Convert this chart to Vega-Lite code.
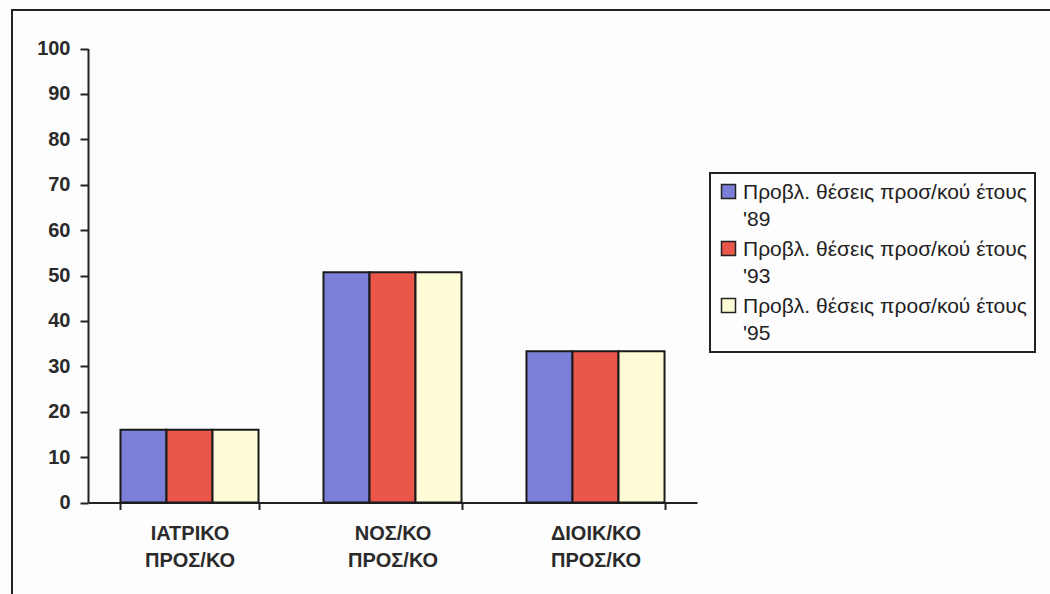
{
  "$schema": "https://vega.github.io/schema/vega-lite/v6.json",
  "width": 1060,
  "height": 620,
  "autosize": "none",
  "padding": {"left": 12, "top": 10, "right": 0, "bottom": 0},
  "background": "#fdfdfd",
  "config": {
    "view": {"stroke": "#222222", "strokeWidth": 2},
    "font": "Liberation Sans"
  },
  "data": {
    "values": [
      {"category": "ΙΑΤΡΙΚΟ ΠΡΟΣ/ΚΟ", "series": "Προβλ. θέσεις προσ/κού έτους '89", "value": 16},
      {"category": "ΙΑΤΡΙΚΟ ΠΡΟΣ/ΚΟ", "series": "Προβλ. θέσεις προσ/κού έτους '93", "value": 16},
      {"category": "ΙΑΤΡΙΚΟ ΠΡΟΣ/ΚΟ", "series": "Προβλ. θέσεις προσ/κού έτους '95", "value": 16},
      {"category": "ΝΟΣ/ΚΟ ΠΡΟΣ/ΚΟ", "series": "Προβλ. θέσεις προσ/κού έτους '89", "value": 50.7},
      {"category": "ΝΟΣ/ΚΟ ΠΡΟΣ/ΚΟ", "series": "Προβλ. θέσεις προσ/κού έτους '93", "value": 50.7},
      {"category": "ΝΟΣ/ΚΟ ΠΡΟΣ/ΚΟ", "series": "Προβλ. θέσεις προσ/κού έτους '95", "value": 50.7},
      {"category": "ΔΙΟΙΚ/ΚΟ ΠΡΟΣ/ΚΟ", "series": "Προβλ. θέσεις προσ/κού έτους '89", "value": 33.3},
      {"category": "ΔΙΟΙΚ/ΚΟ ΠΡΟΣ/ΚΟ", "series": "Προβλ. θέσεις προσ/κού έτους '93", "value": 33.3},
      {"category": "ΔΙΟΙΚ/ΚΟ ΠΡΟΣ/ΚΟ", "series": "Προβλ. θέσεις προσ/κού έτους '95", "value": 33.3}
    ]
  },
  "mark": {"type": "bar", "stroke": "#1a1a1a", "strokeWidth": 2},
  "encoding": {
    "x": {
      "field": "category",
      "type": "nominal",
      "sort": ["ΙΑΤΡΙΚΟ ΠΡΟΣ/ΚΟ", "ΝΟΣ/ΚΟ ΠΡΟΣ/ΚΟ", "ΔΙΟΙΚ/ΚΟ ΠΡΟΣ/ΚΟ"],
      "scale": {"range": [76, 685], "paddingInner": 0.32, "paddingOuter": 0.16},
      "axis": {
        "title": null,
        "orient": "bottom",
        "offset": -127.5,
        "labelAngle": 0,
        "labelExpr": "split(datum.label, ' ')",
        "labelFontSize": 20,
        "labelFontWeight": "bold",
        "labelColor": "#2a2a2a",
        "labelLineHeight": 27,
        "labelPadding": 14,
        "tickBand": "extent",
        "tickSize": 7,
        "tickColor": "#222222",
        "tickWidth": 2,
        "domainColor": "#222222",
        "domainWidth": 2,
        "grid": false
      }
    },
    "xOffset": {
      "field": "series",
      "sort": ["Προβλ. θέσεις προσ/κού έτους '89", "Προβλ. θέσεις προσ/κού έτους '93", "Προβλ. θέσεις προσ/κού έτους '95"],
      "scale": {"paddingInner": 0, "paddingOuter": 0}
    },
    "y": {
      "field": "value",
      "type": "quantitative",
      "scale": {"domain": [0, 100], "range": [492.5, 38.5], "nice": false},
      "axis": {
        "title": null,
        "orient": "left",
        "offset": -76,
        "values": [0, 10, 20, 30, 40, 50, 60, 70, 80, 90, 100],
        "tickSize": 8,
        "tickColor": "#222222",
        "tickWidth": 2,
        "domainColor": "#222222",
        "domainWidth": 2,
        "labelFontSize": 20,
        "labelFontWeight": "bold",
        "labelColor": "#2a2a2a",
        "labelPadding": 10,
        "grid": false
      }
    },
    "color": {
      "field": "series",
      "type": "nominal",
      "sort": ["Προβλ. θέσεις προσ/κού έτους '89", "Προβλ. θέσεις προσ/κού έτους '93", "Προβλ. θέσεις προσ/κού έτους '95"],
      "scale": {"range": ["#7b7fd8", "#e9574b", "#fdfcd6"]},
      "legend": {
        "orient": "none",
        "legendX": 698,
        "legendY": 163,
        "title": null,
        "labelExpr": "[slice(datum.label, 0, lastindexof(datum.label, ' ')), slice(datum.label, lastindexof(datum.label, ' ') + 1)]",
        "labelFontSize": 21,
        "labelBaseline": "alphabetic",
        "labelLimit": 400,
        "labelColor": "#222222",
        "labelOffset": 4,
        "symbolType": "square",
        "symbolSize": 196,
        "symbolStrokeColor": "#222222",
        "symbolStrokeWidth": 1.5,
        "symbolOpacity": 1,
        "padding": 8,
        "strokeColor": "#222222",
        "fillColor": "#fdfdfd",
        "rowPadding": 8,
        "encode": {
          "legend": {"update": {"strokeWidth": {"value": 2}}},
          "labels": {"update": {"dy": {"value": 7.5}, "lineHeight": {"value": 27}}}
        }
      }
    }
  }
}
